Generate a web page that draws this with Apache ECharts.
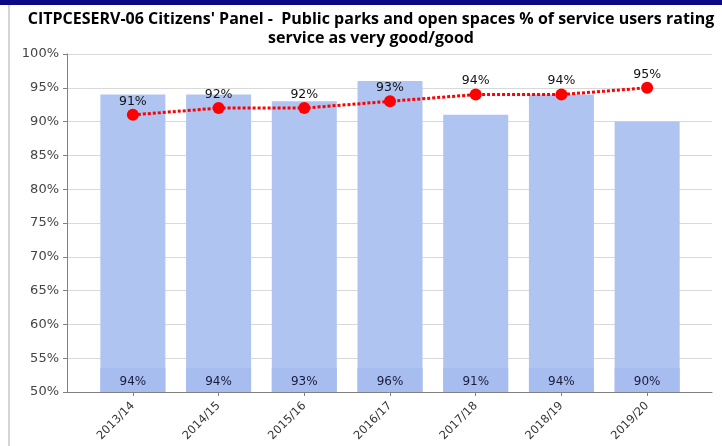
<!DOCTYPE html>
<html>
<head>
<meta charset="utf-8">
<script src="https://cdn.jsdelivr.net/npm/echarts@6/dist/echarts.min.js"></script>
<style>
  html, body { margin: 0; padding: 0; background: #ffffff; }
  #chart { width: 722px; height: 446px; }
</style>
</head>
<body>
<div id="chart"></div>
<script>
// Survey years
const years = ['2013/14', '2014/15', '2015/16', '2016/17', '2017/18', '2018/19', '2019/20'];
// Bars: share rating the service very good/good
const barValues = [94, 94, 93, 96, 91, 94, 90];
// Dotted line: target level per year
const lineValues = [91, 92, 92, 93, 94, 94, 95];
// Value-axis ticks (percent)
const yTicks = [50, 55, 60, 65, 70, 75, 80, 85, 90, 95, 100];

const titleText = "CITPCESERV-06 Citizens' Panel -  Public parks and open spaces % of service users rating\nservice as very good/good";

const chart = echarts.init(document.getElementById('chart'), null, { renderer: 'canvas' });

const yMin = yTicks[0];
const yMax = yTicks[yTicks.length - 1];
const yStep = yTicks[1] - yTicks[0];

chart.setOption({
  animation: false,
  backgroundColor: '#ffffff',
  title: {
    text: titleText,
    left: 366,
    textAlign: 'center',
    top: 5,
    textStyle: {
      fontFamily: 'Open Sans',
      fontWeight: 'bold',
      fontSize: 16,
      lineHeight: 19,
      color: '#000000'
    }
  },
  grid: [
    // Frame grid: value axis, gridlines and the long baseline
    { left: 67, right: 10, top: 54, bottom: 54 },
    // Plot grid: bars, line and year labels
    { left: 90, right: 32, top: 54, bottom: 54 }
  ],
  xAxis: [
    {
      gridIndex: 0, type: 'category', data: years,
      axisLine: { show: true, lineStyle: { color: '#808080', width: 1 } },
      axisTick: { show: false }, axisLabel: { show: false }, splitLine: { show: false }
    },
    {
      gridIndex: 1, type: 'category', data: years,
      axisLine: { show: false },
      axisTick: { show: true, alignWithLabel: true, length: 4, lineStyle: { color: '#808080' } },
      axisLabel: {
        rotate: 45, margin: 12, fontSize: 11.5, color: '#333333', fontFamily: 'DejaVu Sans'
      }
    }
  ],
  yAxis: [
    {
      gridIndex: 0, type: 'value', min: yMin, max: yMax, interval: yStep,
      axisLine: { show: true, lineStyle: { color: '#808080', width: 1 } },
      axisTick: { show: true, length: 4, lineStyle: { color: '#808080' } },
      axisLabel: {
        formatter: v => v + '%', fontSize: 13, color: '#444444', margin: 8,
        fontFamily: 'DejaVu Sans'
      },
      splitLine: { show: true, lineStyle: { color: '#d9d9d9', width: 1 } }
    },
    {
      gridIndex: 1, type: 'value', min: yMin, max: yMax, interval: yStep,
      show: false
    }
  ],
  series: [
    {
      type: 'bar',
      xAxisIndex: 1, yAxisIndex: 1,
      data: barValues,
      barWidth: 65,
      itemStyle: { color: '#afc4f1' },
      z: 2,
      label: {
        show: true,
        position: 'insideBottom',
        distance: 0,
        formatter: '{c}%',
        fontSize: 12,
        fontFamily: 'DejaVu Sans',
        color: '#1a1a3a',
        backgroundColor: '#a8bdef',
        width: 65,
        height: 16,
        align: 'center',
        padding: [4, 0, 4, 0]
      }
    },
    {
      type: 'line',
      xAxisIndex: 1, yAxisIndex: 1,
      data: lineValues,
      symbol: 'circle',
      symbolSize: 12,
      itemStyle: { color: '#ff0000' },
      lineStyle: { color: '#ff0000', width: 3, type: [3, 2] },
      z: 3,
      label: {
        show: true,
        position: 'top',
        distance: 1,
        formatter: '{c}%',
        fontSize: 12.5,
        fontFamily: 'DejaVu Sans',
        color: '#111111'
      }
    }
  ],
  graphic: [
    // Header band and left frame edge
    { type: 'rect', left: 0, top: 0, shape: { width: 722, height: 5 }, style: { fill: '#0a0a84' }, silent: true },
    { type: 'rect', left: 8, top: 5, shape: { width: 2, height: 441 }, style: { fill: '#d4d4d4' }, silent: true }
  ]
});
</script>
</body>
</html>
